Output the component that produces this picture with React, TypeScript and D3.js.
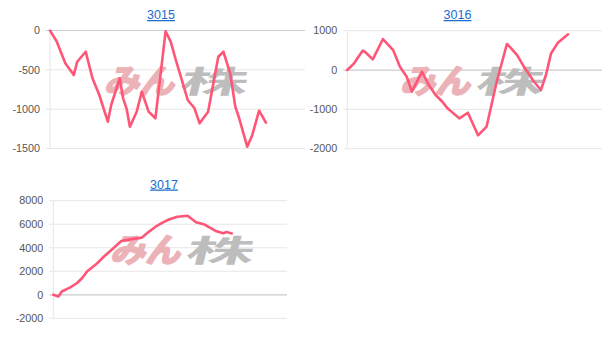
import React from "react";
import * as d3 from "d3";

// ---- data (x = day offset, y = value) ----
const titles = ["3015", "3016", "3017"];

const days3015 = [0, 4, 9, 14, 16, 21, 25, 29, 34, 36, 41, 43, 45, 47, 51, 54, 58, 62, 68, 71, 74, 77, 81, 85, 88, 93, 99, 102, 106, 109, 111, 116, 119, 123, 127];
const values3015 = [0, -142, -417, -566, -397, -270, -608, -820, -1159, -947, -608, -862, -989, -1223, -1032, -778, -1032, -1116, -10, -142, -375, -590, -883, -989, -1180, -1032, -333, -270, -544, -968, -1096, -1477, -1328, -1019, -1172];
const ticks3015 = [0, -500, -1000, -1500];

const days3016 = [0, 4, 9, 11, 15, 21, 27, 31, 35, 38, 44, 48, 52, 56, 59, 66, 71, 77, 82, 88, 94, 96, 100, 104, 106, 110, 114, 117, 120, 124, 130];
const values3016 = [0, 170, 491, 440, 272, 788, 508, 85, -170, -551, -43, -381, -636, -805, -974, -1229, -1085, -1660, -1440, -297, 661, 577, 381, 85, -43, -297, -508, -127, 424, 695, 907];
const ticks3016 = [1000, 0, -1000, -2000];

const days3017 = [0, 3, 5, 10, 14, 17, 20, 25, 30, 35, 40, 45, 52, 56, 60, 64, 68, 73, 79, 84, 89, 96, 100, 102, 105];
const values3017 = [0, -145, 283, 626, 1000, 1430, 2000, 2570, 3280, 3910, 4570, 4710, 4860, 5340, 5770, 6115, 6400, 6630, 6720, 6170, 5970, 5400, 5230, 5330, 5220];
const ticks3017 = [8000, 6000, 4000, 2000, 0, -2000];

// ---- layout ----
const W = 610;
const H = 347;
const LINE_COLOR = "#ff5577";
const FONT = "'Liberation Sans', Arial, sans-serif";

type Panel = {
  title: string;
  days: number[];
  values: number[];
  ticks: number[];
  left: number;
  right: number;
  top: number;
  bottom: number;
  xMax: number;
  titleX: number;
  titleY: number;
  wmX: number;
  wmY: number;
};

const panels: Panel[] = [
  { title: titles[0], days: days3015, values: values3015, ticks: ticks3015, left: 50, right: 305, top: 30.5, bottom: 148.5, xMax: 150, titleX: 161, titleY: 19, wmX: 176, wmY: 93 },
  { title: titles[1], days: days3016, values: values3016, ticks: ticks3016, left: 347.3, right: 602, top: 30.7, bottom: 148.7, xMax: 150, titleX: 457.5, titleY: 19, wmX: 472, wmY: 93 },
  { title: titles[2], days: days3017, values: values3017, ticks: ticks3017, left: 53.3, right: 287, top: 200.7, bottom: 318.3, xMax: 137.5, titleX: 164, titleY: 188.5, wmX: 182, wmY: 262 },
];

function Watermark({ x, y }: { x: number; y: number }) {
  return (
    <g transform={`translate(${x},${y}) skewX(-14)`}>
      <text
        x={-72}
        y={0}
        fontSize={33}
        fontWeight={700}
        fontFamily="'Noto Sans CJK JP', sans-serif"
        fill="#ebb2b7"
        stroke="#ebb2b7"
        strokeWidth={2}
        strokeLinejoin="round"
        textLength={70}
        lengthAdjust="spacingAndGlyphs"
      >
        みん
      </text>
      <g transform="translate(2,0) scale(2.2,1)">
        <text
          x={0}
          y={0}
          fontSize={31}
          fontWeight={700}
          fontFamily="'Noto Sans CJK JP', sans-serif"
          fill="#bdbdbd"
        >
          株
        </text>
      </g>
    </g>
  );
}

function Chart({ p }: { p: Panel }) {
  const yMin = d3.min(p.ticks) as number;
  const yMax = d3.max(p.ticks) as number;
  const x = d3.scaleLinear().domain([0, p.xMax]).range([p.left, p.right]);
  const y = d3.scaleLinear().domain([yMin, yMax]).range([p.bottom, p.top]);
  const line = d3
    .line<number>()
    .x((_, i) => x(p.days[i]))
    .y((v) => y(v));
  return (
    <g>
      <text
        x={p.titleX}
        y={p.titleY}
        textAnchor="middle"
        fontFamily={FONT}
        fontSize={12.5}
        fill="#1a6ccf"
        textDecoration="underline"
      >
        {p.title}
      </text>
      <line x1={p.left} x2={p.left} y1={p.top} y2={p.bottom} stroke="#e6e6e6" strokeWidth={1} />
      {p.ticks.map((t) => (
        <g key={t}>
          <line
            x1={p.left - 4}
            x2={p.right}
            y1={y(t)}
            y2={y(t)}
            stroke={t === 0 ? "#cccccc" : "#e6e6e6"}
            strokeWidth={t === 0 ? 1.2 : 1}
          />
          <text
            x={p.left - 10}
            y={y(t)}
            dy="0.35em"
            textAnchor="end"
            fontFamily={FONT}
            fontSize={10.8}
            fill="#555555"
          >
            {t}
          </text>
        </g>
      ))}
      <Watermark x={p.wmX} y={p.wmY} />
      <path
        d={line(p.values) || ""}
        fill="none"
        stroke={LINE_COLOR}
        strokeWidth={2.6}
        strokeLinejoin="round"
        strokeLinecap="round"
      />
    </g>
  );
}

export default function App() {
  return (
    <svg
      width={W}
      height={H}
      viewBox={`0 0 ${W} ${H}`}
      style={{ position: "absolute", left: 0, top: 0, background: "#ffffff" }}
    >
      <rect x={0} y={0} width={W} height={H} fill="#ffffff" />
      {panels.map((p) => (
        <Chart key={p.title} p={p} />
      ))}
    </svg>
  );
}
